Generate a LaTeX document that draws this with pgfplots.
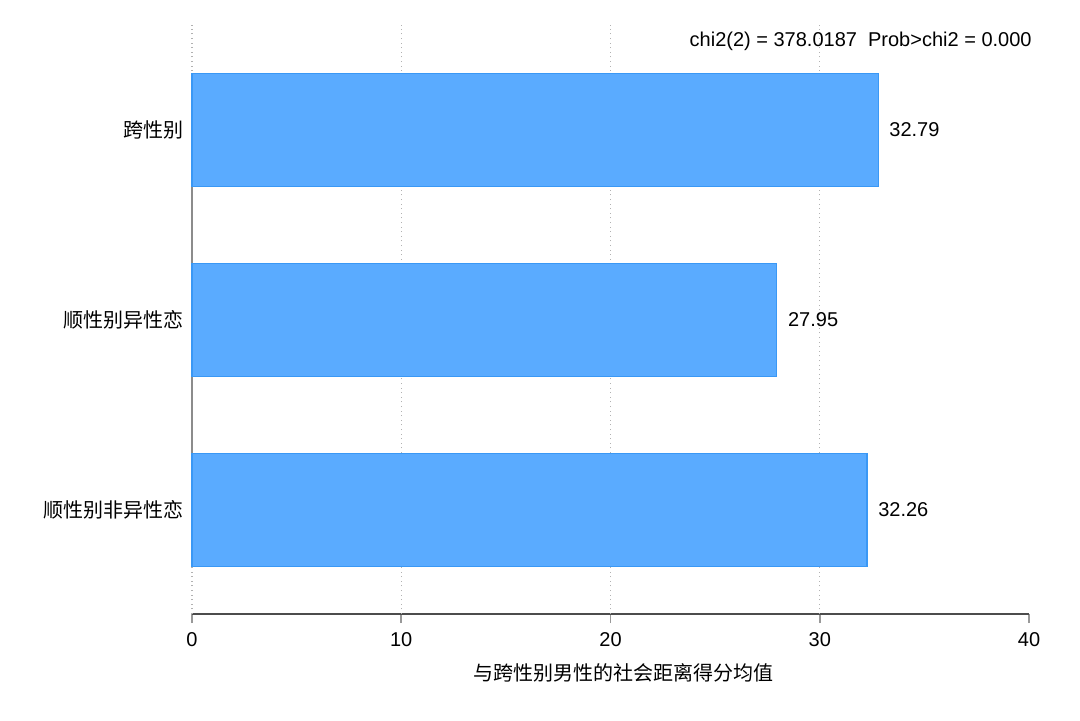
\documentclass[border=0pt]{standalone}
\usepackage{pgfplots}
\pgfplotsset{compat=1.18}
\usepackage{fontspec}
\setmainfont{Liberation Sans}
\newfontfamily\cjk{Noto Sans CJK SC}
\definecolor{barfill}{RGB}{90,171,255}
\definecolor{baredge}{RGB}{58,152,245}
\begin{document}
\fontsize{10}{12}\selectfont
\begin{tikzpicture}
\path[use as bounding box] (-96pt,-53pt) rectangle (444pt,307pt);
\begin{axis}[
  scale only axis,
  width=418.5pt, height=294.5pt,
  xmin=0, xmax=40, ymin=-0.547, ymax=2.553,
  axis x line*=bottom,
  axis y line*=left,
  y axis line style={draw=none},
  x axis line style={draw=black!70, line width=0.8pt},
  xtick={0,10,20,30,40},
  ytick={0,1,2},
  yticklabels={顺性别非异性恋,顺性别异性恋,跨性别},
  yticklabel style={font=\fontsize{10}{12}\cjk, xshift=4pt},
  xticklabel style={font=\fontsize{10}{12}\selectfont, yshift=-1pt},
  /pgf/number format/assume math mode=true,
  tick align=outside,
  x tick style={draw=black!40, line width=0.8pt},
  y tick style={draw=none},
  major tick length=4.5pt,
  xlabel={\cjk 与跨性别男性的社会距离得分均值},
  xlabel style={at={(axis description cs:0.5,0)}, anchor=center, yshift=-29.5pt, xshift=6.5pt, font=\fontsize{10}{12}\selectfont},
  xbar,
  bar width=0.595,
  nodes near coords,
  point meta=x,
  nodes near coords style={font=\fontsize{10}{12}\selectfont, anchor=west, xshift=2pt, /pgf/number format/.cd, fixed, fixed zerofill, precision=2, assume math mode=true},
  clip=false,
]
\pgfplotsinvokeforeach{0,10,20,30}{
  \draw[black!30, line width=0.6pt, dash pattern=on 0.5pt off 1.8pt] (axis cs:#1,-0.547) -- (axis cs:#1,2.553);
}
\draw[black!45, line width=0.9pt] (axis cs:0,0) -- (axis cs:0,2);
\addplot[fill=barfill, draw=baredge, line width=0.6pt] coordinates {
  (32.26,0)
  (27.95,1)
  (32.79,2)
};
\end{axis}
\node[anchor=east, inner sep=0pt, font=\fontsize{10}{12}\selectfont] at (420pt,286.5pt) {chi2(2) = 378.0187\ \ Prob>chi2 = 0.000};
\end{tikzpicture}
\end{document}
